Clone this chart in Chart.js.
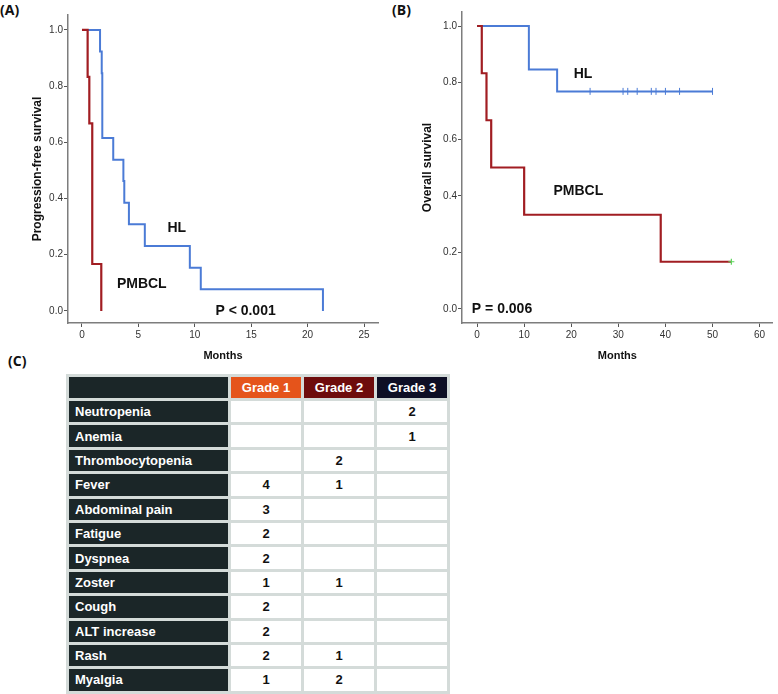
<!DOCTYPE html>
<html>
<head>
<meta charset="utf-8">
<title>PFS / OS and adverse events</title>
<script src="https://cdn.jsdelivr.net/npm/chart.js@4.4.1/dist/chart.umd.min.js"></script>
<style>
  body { margin: 0; background: #fff; }
  #page { position: relative; width: 778px; height: 694px; overflow: hidden; font-family: "Liberation Sans", Arial, sans-serif; }
  .tag { position: absolute; font: bold 14px "Open Sans", "Liberation Sans", sans-serif; color: #111; }
  #boxA { position: absolute; left: 0; top: 0; }
  #boxB { position: absolute; left: 390px; top: 0; }
  #ae { position: absolute; left: 66px; top: 374px; border-collapse: separate; border-spacing: 3px; background: #d4dbd9; table-layout: fixed; }
  #ae td { padding: 0; height: 21.4px; font: bold 13px "Liberation Sans", Arial, sans-serif; text-align: center; background: #fff; color: #111; }
  #ae tr.head td { height: 21px; color: #fff; }
  #ae td.name { background: #1b2628; color: #fff; text-align: left; padding-left: 6px; }
</style>
</head>
<body>
<div id="page">
  <div class="tag" style="left:0;top:0">(A)</div>
  <div class="tag" style="left:392px;top:0">(B)</div>
  <div class="tag" style="left:8px;top:351px">(C)</div>
  <canvas id="boxA" width="390" height="370"></canvas>
  <canvas id="boxB" width="388" height="370"></canvas>
  <table id="ae"></table>
</div>
<script>
// panel A: progression-free survival
const xTicksA = [0, 5, 10, 15, 20, 25];
const hlTimesA = [0, 1.6, 1.75, 1.8, 2.77, 3.67, 3.75, 4.16, 5.57, 9.56, 10.53, 21.36];
const hlSurvA = [1, 0.923, 0.846, 0.615, 0.538, 0.462, 0.385, 0.308, 0.231, 0.154, 0.077, 0];
const pmTimesA = [0, 0.5, 0.65, 0.91, 1.71];
const pmSurvA = [1, 0.833, 0.667, 0.167, 0];

// panel B: overall survival
const xTicksB = [0, 10, 20, 30, 40, 50, 60];
const hlTimesB = [0, 11, 17, 50];
const hlSurvB = [1, 0.846, 0.769, 0.769];
const hlCensorB = [24, 31, 32, 34, 37, 38, 40, 43, 50];
const pmTimesB = [0, 1, 2, 3, 10, 39, 54];
const pmSurvB = [1, 0.833, 0.667, 0.5, 0.333, 0.167, 0.167];
const pmCensorB = [54];

const yTicks = [0, 0.2, 0.4, 0.6, 0.8, 1.0];

// panel C: adverse events by grade
const aeNames = ["Neutropenia", "Anemia", "Thrombocytopenia", "Fever", "Abdominal pain", "Fatigue",
  "Dyspnea", "Zoster", "Cough", "ALT increase", "Rash", "Myalgia"];
const gradeNames = ["Grade 1", "Grade 2", "Grade 3"];
const grade1 = [null, null, null, 4, 3, 2, 2, 1, 2, 2, 2, 1];
const grade2 = [null, null, 2, 1, null, null, null, 1, null, null, 1, 2];
const grade3 = [2, 1, null, null, null, null, null, null, null, null, null, null];

const BLUE = "#4b7bd6";
const RED = "#a11d22";
const FONT = '"Liberation Sans", Arial, sans-serif';

function toPoints(times, surv) {
  return times.map((t, i) => ({ x: t, y: surv[i] }));
}

function survAt(times, surv, t) {
  let s = surv[0];
  for (let i = 0; i < times.length; i++) {
    if (times[i] <= t) s = surv[i];
  }
  return s;
}

const notesPlugin = {
  id: "notes",
  afterDatasetsDraw(chart, args, opts) {
    const { ctx, scales } = chart;
    ctx.save();
    ctx.font = "bold 14px " + FONT;
    ctx.fillStyle = "#111";
    ctx.textAlign = "center";
    ctx.textBaseline = "middle";
    opts.items.forEach((n) => {
      ctx.fillText(n.text, scales.x.getPixelForValue(n.x), scales.y.getPixelForValue(n.y));
    });
    ctx.restore();
  },
};

function kmChart(canvas, cfg) {
  // red (PMBCL) sits on top of blue where they overlap, as in the original
  const datasets = [
    { data: toPoints(cfg.hlTimes, cfg.hlSurv), borderColor: BLUE, borderWidth: 2, stepped: true, pointRadius: 0, order: 2 },
    { data: toPoints(cfg.pmTimes, cfg.pmSurv), borderColor: RED, borderWidth: 2.2, stepped: true, pointRadius: 0, order: 1 },
  ];
  if (cfg.hlCensor) {
    datasets.push({
      data: cfg.hlCensor.map((t) => ({ x: t, y: survAt(cfg.hlTimes, cfg.hlSurv, t) })),
      showLine: false, pointStyle: "line", rotation: 90, pointRadius: 3.5,
      borderColor: BLUE, borderWidth: 1, order: 0,
    });
  }
  if (cfg.pmCensor) {
    datasets.push({
      data: cfg.pmCensor.map((t) => ({ x: t, y: survAt(cfg.pmTimes, cfg.pmSurv, t) })),
      showLine: false, pointStyle: "cross", pointRadius: 3,
      borderColor: "#5cd65c", borderWidth: 1.2, order: 0,
    });
  }

  return new Chart(canvas, {
    type: "line",
    data: { datasets: datasets },
    plugins: [notesPlugin],
    options: {
      responsive: false,
      animation: false,
      layout: { padding: { top: cfg.padTop, right: cfg.padRight, left: 0, bottom: 0 } },
      plugins: {
        legend: { display: false },
        tooltip: { enabled: false },
        notes: { items: cfg.notes },
      },
      scales: {
        x: {
          type: "linear",
          min: cfg.xMin,
          max: cfg.xMax,
          afterBuildTicks: (s) => { s.ticks = cfg.xTicks.map((v) => ({ value: v })); },
          afterFit: (s) => { s.height = 47; },
          border: { display: true, color: "#7d7d7d", width: 1.5 },
          grid: { display: true, drawOnChartArea: false, drawTicks: true, tickLength: 4, tickColor: "#555" },
          ticks: { font: { size: 10, family: FONT }, color: "#333", padding: 2, maxRotation: 0, autoSkip: false },
          title: { display: true, text: "Months", color: "#111", font: { size: 11, weight: "bold", family: FONT }, padding: { top: 0, bottom: 7 } },
        },
        y: {
          type: "linear",
          min: cfg.yMin,
          max: cfg.yMax,
          afterBuildTicks: (s) => { s.ticks = yTicks.map((v) => ({ value: v })); },
          afterFit: (s) => { s.width = cfg.yWidth; },
          border: { display: true, color: "#7d7d7d", width: 1.5 },
          grid: { display: true, drawOnChartArea: false, drawTicks: true, tickLength: 4, tickColor: "#555" },
          ticks: { font: { size: 10, family: FONT }, color: "#333", padding: 1, callback: (v) => v.toFixed(1) },
          title: { display: true, text: cfg.yTitle, color: "#111", font: { size: 12, weight: "bold", family: FONT }, padding: { top: 30, bottom: 0 } },
        },
      },
    },
  });
}

kmChart(document.getElementById("boxA"), {
  hlTimes: hlTimesA, hlSurv: hlSurvA, pmTimes: pmTimesA, pmSurv: pmSurvA,
  xTicks: xTicksA, xMin: -1.24, xMax: 26.24, yMin: -0.043, yMax: 1.053,
  yWidth: 68, padTop: 15, padRight: 12,
  yTitle: "Progression-free survival",
  notes: [
    { text: "HL", x: 8.4, y: 0.295 },
    { text: "PMBCL", x: 5.3, y: 0.096 },
    { text: "P < 0.001", x: 14.5, y: 0.0 },
  ],
});

kmChart(document.getElementById("boxB"), {
  hlTimes: hlTimesB, hlSurv: hlSurvB, pmTimes: pmTimesB, pmSurv: pmSurvB,
  hlCensor: hlCensorB, pmCensor: pmCensorB,
  xTicks: xTicksB, xMin: -3.2, xMax: 62.8, yMin: -0.0495, yMax: 1.0495,
  yWidth: 72, padTop: 12, padRight: 2,
  yTitle: "Overall survival",
  notes: [
    { text: "HL", x: 22.5, y: 0.83 },
    { text: "PMBCL", x: 21.5, y: 0.417 },
    { text: "P = 0.006", x: 5.3, y: 0.0 },
  ],
});

// adverse event table
const table = document.getElementById("ae");
const headColors = ["#e5541b", "#6e0c0c", "#0e0f25"];
const colWidths = [159, 70, 70, 70];

const colgroup = document.createElement("colgroup");
colWidths.forEach((w) => {
  const col = document.createElement("col");
  col.style.width = w + "px";
  colgroup.appendChild(col);
});
table.appendChild(colgroup);

const head = document.createElement("tr");
head.className = "head";
const corner = document.createElement("td");
corner.className = "name";
head.appendChild(corner);
for (let i = 0; i < gradeNames.length; i++) {
  const td = document.createElement("td");
  td.textContent = gradeNames[i];
  td.style.background = headColors[i];
  head.appendChild(td);
}
table.appendChild(head);

const grades = [grade1, grade2, grade3];
for (let r = 0; r < aeNames.length; r++) {
  const tr = document.createElement("tr");
  const name = document.createElement("td");
  name.className = "name";
  name.textContent = aeNames[r];
  tr.appendChild(name);
  for (let g = 0; g < grades.length; g++) {
    const td = document.createElement("td");
    td.textContent = grades[g][r] == null ? "" : grades[g][r];
    tr.appendChild(td);
  }
  table.appendChild(tr);
}
</script>
</body>
</html>
